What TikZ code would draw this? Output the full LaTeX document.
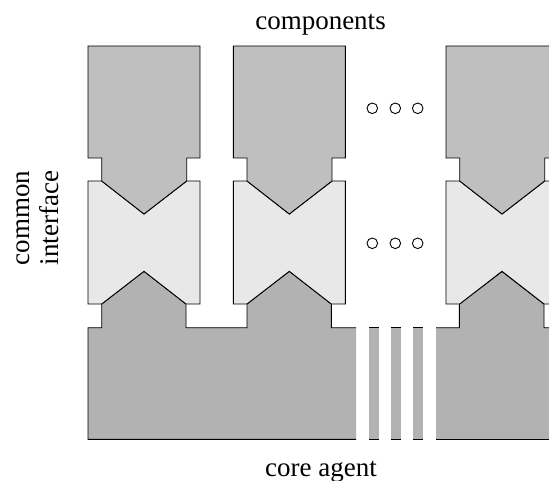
\documentclass[tikz,border=0pt]{standalone}
\usepackage{fontspec}
\setmainfont{Liberation Serif}
\usepackage{xcolor}
\definecolor{compgray}{gray}{0.75}
\definecolor{coregray}{gray}{0.70}
\definecolor{ifacegray}{gray}{0.91}

\begin{document}
\begin{tikzpicture}[x=1pt,y=-1pt,
 comp/.style={draw,line width=0.9pt,fill=compgray},
 iface/.style={draw,line width=0.9pt,fill=ifacegray},
 core/.style={fill=coregray},
 rim/.style={line width=0.9pt},
 lbl/.style={font=\fontsize{27}{29}\selectfont,inner sep=0pt}]
\useasboundingbox (0,0) rectangle (549,481);
\begin{scope}
\clip (0,0) rectangle (549,481);
% core agent, left part
\fill[core] (88,439.3) -- (88,327.7) -- (101.7,327.7) -- (101.7,304) -- (144,271.3)
  -- (186,304) -- (186,327.7) -- (247,327.7) -- (247,304) -- (289.3,271.3)
  -- (331.3,304) -- (331.3,327.7) -- (356,327.7) -- (356,439.3) -- cycle;
\draw[rim] (356,327.7) -- (331.3,327.7) -- (331.3,304) -- (289.3,271.3) -- (247,304)
  -- (247,327.7) -- (186,327.7) -- (186,304) -- (144,271.3) -- (101.7,304)
  -- (101.7,327.7) -- (88,327.7) -- (88,439.3) -- (356,439.3);
% core agent, strips
\foreach \sx in {369,391,413} {
  \fill[core] (\sx,327.7) rectangle (\sx+9.5,439.3);
  \draw[rim] (\sx,327.7) -- (\sx+9.5,327.7) (\sx,439.3) -- (\sx+9.5,439.3);
}
% core agent, right part
\fill[core] (436,327.7) -- (459.3,327.7) -- (459.3,304) -- (502,271.5) -- (544,304)
  -- (544,327.7) -- (560,327.7) -- (560,439.3) -- (436,439.3) -- cycle;
\draw[rim] (436,327.7) -- (459.3,327.7) -- (459.3,304) -- (502,271.5) -- (544,304)
  -- (544,327.7) -- (560,327.7);
\draw[rim] (436,439.3) -- (560,439.3);
% interfaces and components
\foreach \x in {88,233.3,446} {
  \draw[iface] (\x,181) -- (\x+13.7,181) -- (\x+56,214) -- (\x+98.7,181) -- (\x+112,181)
    -- (\x+112,304) -- (\x+98,304) -- (\x+56,271.3) -- (\x+13.7,304) -- (\x,304) -- cycle;
  \draw[comp] (\x,46) -- (\x+112,46) -- (\x+112,158) -- (\x+98.7,158) -- (\x+98.7,181)
    -- (\x+56,214) -- (\x+13.7,181) -- (\x+13.7,158) -- (\x,158) -- cycle;
}
\end{scope}
% dots
\foreach \cx in {372.3,395.3,417.7} {
  \draw[rim] (\cx,108.3) circle[radius=5.3pt];
  \draw[rim] (\cx,243.3) circle[radius=5.3pt];
}
% labels
\node[lbl,anchor=base] (comps) at (320.5,30) {components};
\node[lbl,anchor=base] (coreag) at (321,476) {core agent};
\node[lbl,rotate=90,align=center] (ciface) at (38,218) {common\\interface};
\end{tikzpicture}
\end{document}
